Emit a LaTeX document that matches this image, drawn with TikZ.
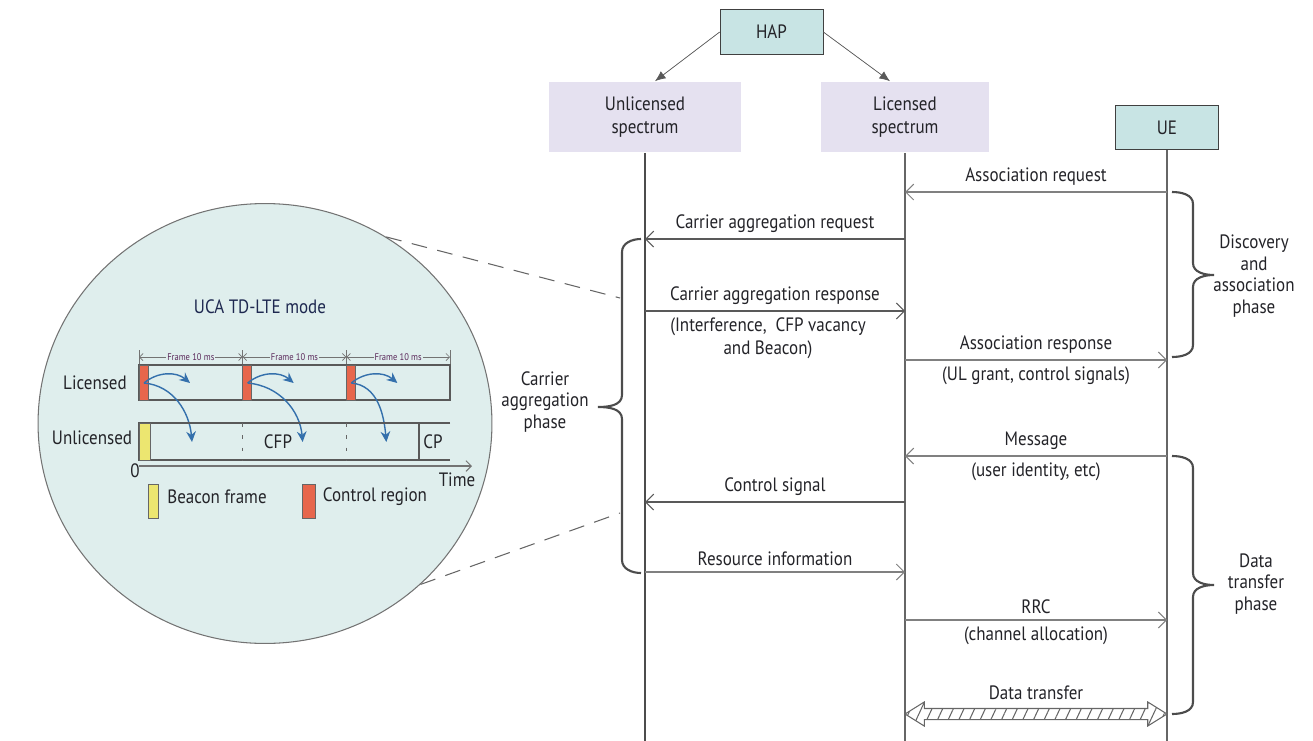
\documentclass[tikz,border=0pt]{standalone}
\usepackage{fontspec}
\setmainfont{PT Sans}[FakeStretch=0.88]
\usepackage{xcolor}
\usepackage{tikz}
\usetikzlibrary{shapes,arrows,arrows.meta,positioning,calc,patterns.meta}
\definecolor{hapfill}{RGB}{200,228,228}
\definecolor{specfill}{RGB}{229,225,240}
\definecolor{zoomfill}{RGB}{223,238,237}
\definecolor{ctrlred}{RGB}{231,102,76}
\definecolor{beaconyel}{RGB}{236,230,112}
\definecolor{flowblue}{RGB}{52,112,172}
\definecolor{textdark}{RGB}{35,35,40}
\definecolor{navy}{RGB}{30,40,80}
\definecolor{framepurple}{RGB}{90,40,90}

\begin{document}
\begin{tikzpicture}[x=0.02cm, y=-0.02cm, font=\fontsize{11}{13.5}\selectfont, text=textdark,
    entity/.style={draw=black!75, fill=hapfill, minimum width=2.06cm, minimum height=0.89cm, inner sep=0pt},
    spectrum/.style={fill=specfill, align=center, minimum height=1.42cm, inner sep=0pt},
    lifeline/.style={draw=black!60, line width=0.7pt},
    msg/.style={draw=black!50, line width=0.6pt, -{Straight Barb[length=4.5pt,width=9pt]}},
    phasebrace/.style={draw=black!70, line width=1.2pt},
    phaselabel/.style={align=center, font=\fontsize{11}{12.3}\selectfont},
    dimline/.style={draw=black!55, line width=0.4pt, {Straight Barb[length=2pt,width=4pt]}-{Straight Barb[length=2pt,width=4pt]}},
    slotline/.style={draw=black!65, line width=0.7pt},
    flow/.style={draw=flowblue, line width=0.8pt, -{Stealth[length=6pt,width=5.5pt]}},
    datarrow/.style={double arrow, draw=black!60, line width=0.6pt, pattern={Lines[angle=65,distance=5.5pt,line width=0.6pt]}, pattern color=black!60,
        minimum height=5.24cm, double arrow head extend=0.13cm, double arrow tip angle=64, inner xsep=0pt, inner ysep=0.1cm}]

    \useasboundingbox (0,0) rectangle (1313,741);

    \node[entity] (hap) at (771.5,32) {HAP};
    \node[spectrum, minimum width=3.86cm] (unl) at (645,117) {Unlicensed\\spectrum};
    \node[spectrum, minimum width=3.36cm] (lic) at (905,117) {Licensed\\spectrum};
    \node[entity] (ue) at (1167,127.5) {UE};

    \draw[draw=black!65, fill=black!65, -{Latex[length=6pt,width=5pt]}] (hap.west) -- ($(unl.north)+(10,0)$);
    \draw[draw=black!65, fill=black!65, -{Latex[length=6pt,width=5pt]}] (hap.east) -- ($(lic.north)+(-15,0)$);

    \draw[lifeline, line width=0.9pt, draw=black!70] (unl.south) -- (unl |- 0,741);
    \draw[lifeline] (lic.south) -- (lic |- 0,741);
    \draw[lifeline] (ue.south) -- (ue |- 0,741);

    \draw[msg] (ue |- 0,192) -- node[above] {Association request} (lic |- 0,192);
    \draw[msg, draw=black!65] (lic |- 0,239) -- node[above] {Carrier aggregation request} (unl |- 0,239);
    \draw[msg, draw=black!65] (unl |- 0,311) -- node[above] {Carrier aggregation response}
        node[below, align=center, xshift=-4pt] {(Interference,\ \ CFP vacancy\\and Beacon)} (lic |- 0,311);
    \draw[msg] (lic |- 0,360) -- node[above] {Association response}
        node[below] {(UL grant, control signals)} (ue |- 0,360);
    \draw[msg] (ue |- 0,456) -- node[above] {Message} node[below] {(user identity, etc)} (lic |- 0,456);
    \draw[msg, draw=black!65] (lic |- 0,502) -- node[above] {Control signal} (unl |- 0,502);
    \draw[msg] (unl |- 0,572) -- node[above] {Resource information} (lic |- 0,572);
    \draw[msg] (lic |- 0,620) -- node[above] {RRC} node[below] {(channel allocation)} (ue |- 0,620);
    \node[datarrow, label={[yshift=1pt]above:Data transfer}] (dt) at ($(lic |- 0,714)!0.5!(ue |- 0,714)$) {};

    \draw[phasebrace] (641,239) to[out=180,in=90] (622,252) -- (622,395) to[out=-90,in=0] (598,407)
        to[out=0,in=90] (622,419) -- (622,560) to[out=-90,in=180] (641,573);
    \draw[phasebrace] (1172,192) to[out=0,in=90] (1193,204) -- (1193,263) to[out=-90,in=180] (1214,275)
        to[out=180,in=90] (1193,287) -- (1193,345) to[out=-90,in=0] (1172,357);
    \draw[phasebrace] (1172,456) to[out=0,in=90] (1193,468) -- (1193,573) to[out=-90,in=180] (1214,585)
        to[out=180,in=90] (1193,597) -- (1193,702) to[out=-90,in=0] (1172,714);
    \node[phaselabel] (caphase) at (545,402) {Carrier\\aggregation\\phase};
    \node[phaselabel] (daphase) at (1254,276) {Discovery\\and\\association\\phase};
    \node[phaselabel] (dtphase) at (1256,584) {Data\\transfer\\phase};

    \node[ellipse, draw=black!55, fill=zoomfill, line width=0.6pt, minimum width=9.08cm, minimum height=8.8cm, inner sep=0pt] (zoomcirc) at (265,423.5) {};
    \draw[draw=black!60, line width=0.6pt, dash pattern=on 9pt off 6pt] (zoomcirc.57) -- (620,298);
    \draw[draw=black!60, line width=0.6pt, dash pattern=on 9pt off 6pt] (zoomcirc.-46) -- (620,513);

    \node[text=navy] (ucamode) at (260,307) {UCA TD-LTE mode};

    \foreach \fx/\dx in {139/53, 242.67/60, 346.33/40} {
        \draw[slotline] (\fx,365) rectangle (\fx+103.67,400);
        \draw[fill=ctrlred, draw=black!60, line width=0.4pt] (\fx,365) rectangle (\fx+9,400);
        \draw[dimline] (\fx,357) -- node[fill=zoomfill, inner sep=0.6pt, text=framepurple, font=\fontsize{5.5}{6}\selectfont] {Frame 10 ms} (\fx+103.67,357);
        \draw[black!55, line width=0.4pt] (\fx,350) -- (\fx,364);
        \draw[flow] (\fx+5,383) to[bend left=40] (\fx+51,383);
        \draw[flow] (\fx+5,383) to[out=-5,in=95] (\fx+\dx,442);
    }
    \draw[black!55, line width=0.4pt] (450,350) -- (450,364);

    \draw[slotline] (450,423) -- (139,423) -- (139,460) -- (450,460);
    \draw[slotline] (419,423) -- (419,460);
    \foreach \fx in {242.67,346.33}
        \draw[black!60, line width=0.5pt, dash pattern=on 2pt off 5pt] (\fx,423) -- (\fx,460);
    \draw[fill=beaconyel, draw=black!60, line width=0.4pt] (139,423) rectangle (150,460);
    \draw[black!55, line width=0.6pt, -{Straight Barb[length=3pt,width=6pt]}] (139,466) -- (472,466);

    \node (licrow) at (95,383) {Licensed};
    \node (unlrow) at (92,438) {Unlicensed};
    \node (cfp) at (278,442) {CFP};
    \node (cp) at (433,442) {CP};
    \node (origin) at (135,471) {0};
    \node (timelbl) at (457,480) {Time};
    \draw[fill=beaconyel, draw=black!60, line width=0.4pt] (148,484) rectangle (158,518);
    \node (beacon) at (217,497) {Beacon frame};
    \draw[fill=ctrlred, draw=black!60, line width=0.4pt] (302,484) rectangle (315,518);
    \node (ctrlreg) at (375,497) {Control region};
\end{tikzpicture}
\end{document}
